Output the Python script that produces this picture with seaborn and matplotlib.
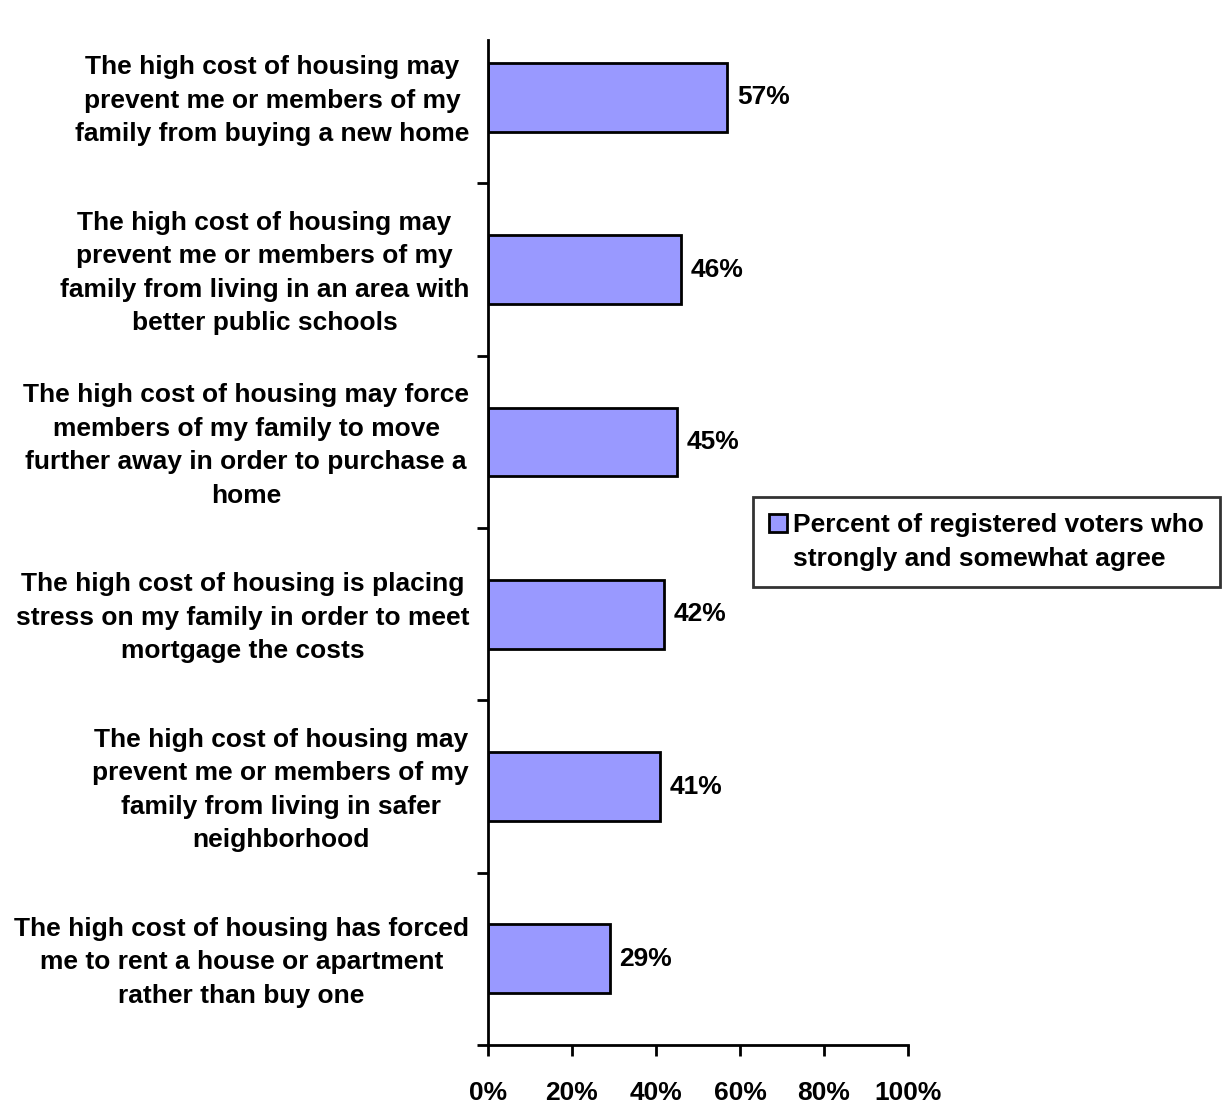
import matplotlib
matplotlib.use("Agg")
import matplotlib.pyplot as plt
from matplotlib.patches import Patch
import pandas as pd
import seaborn as sns

statements = [
    "The high cost of housing may\nprevent me or members of my\nfamily from buying a new home",
    "The high cost of housing may\nprevent me or members of my\nfamily from living in an area with\nbetter public schools",
    "The high cost of housing may force\nmembers of my family to move\nfurther away in order to purchase a\nhome",
    "The high cost of housing is placing\nstress on my family in order to meet\nmortgage the costs",
    "The high cost of housing may\nprevent me or members of my\nfamily from living in safer\nneighborhood",
    "The high cost of housing has forced\nme to rent a house or apartment\nrather than buy one",
]
agree_pct = [57, 46, 45, 42, 41, 29]
series_name = "Percent of registered voters who\nstrongly and somewhat agree"
x_ticks = [0, 20, 40, 60, 80, 100]

df = pd.DataFrame({"statement": statements, "pct": agree_pct})

sns.set_theme(style="white")
plt.rcParams["font.family"] = ["Liberation Sans", "DejaVu Sans"]
plt.rcParams["font.weight"] = "bold"
plt.rcParams["text.color"] = "black"
plt.rcParams["xtick.color"] = "black"
plt.rcParams["ytick.color"] = "black"

FS = 19

fig = plt.figure(figsize=(12.23, 11.04), dpi=100)
ax = fig.add_axes([0.399, 0.0534, 0.3434, 0.9104])

sns.barplot(data=df, y="statement", x="pct", orient="h", color="#9999FF",
            saturation=1, edgecolor="black", linewidth=2, width=0.4, ax=ax,
            label=series_name)

# value labels
for i, v in enumerate(agree_pct):
    ax.text(v + 2.3, i, f"{v}%", va="center", ha="left", fontsize=FS,
            fontweight="bold", color="black")

ax.set_xlim(0, 100)
ax.set_ylim(5.5, -0.333)
ax.set_xticks(x_ticks)
ax.set_xticklabels([f"{t}%" for t in x_ticks], fontsize=FS, fontweight="bold")
ax.set_yticks([i + 0.5 for i in range(6)])
ax.set_yticklabels([])

# category labels, centred as blocks
for i, s in enumerate(statements):
    ax.text(-0.045, i + 0.02, s, transform=ax.get_yaxis_transform(), ha="right",
            va="center", multialignment="center", fontsize=FS, fontweight="bold",
            linespacing=1.5, color="black")

ax.set_xlabel("")
ax.set_ylabel("")
for side in ["top", "right"]:
    ax.spines[side].set_visible(False)
for side in ["left", "bottom"]:
    ax.spines[side].set_color("black")
    ax.spines[side].set_linewidth(2)
ax.tick_params(axis="both", direction="out", length=8, width=2, color="black")
ax.tick_params(axis="x", bottom=True, pad=18)
ax.tick_params(axis="y", left=True)

# legend: handle sits next to the first line, second line below it
bar_patch = ax.patches[0]
handles = [Patch(facecolor=bar_patch.get_facecolor(), edgecolor="black", linewidth=2),
           Patch(facecolor="none", edgecolor="none")]
labels = series_name.split("\n")
leg = ax.legend(handles, labels, loc="upper left",
                bbox_to_anchor=(753 / 1223, 1 - 497 / 1104),
                bbox_transform=fig.transFigure, frameon=True, fancybox=False,
                prop={"weight": "bold", "size": FS},
                handlelength=0.65, handleheight=0.7, handletextpad=0.25,
                borderpad=0.62, borderaxespad=0, labelspacing=0.35)
leg.get_frame().set_edgecolor("black")
leg.get_frame().set_linewidth(2)
for t in leg.get_texts():
    t.set_color("black")

fig.savefig("out.png", dpi=100, facecolor="white")
